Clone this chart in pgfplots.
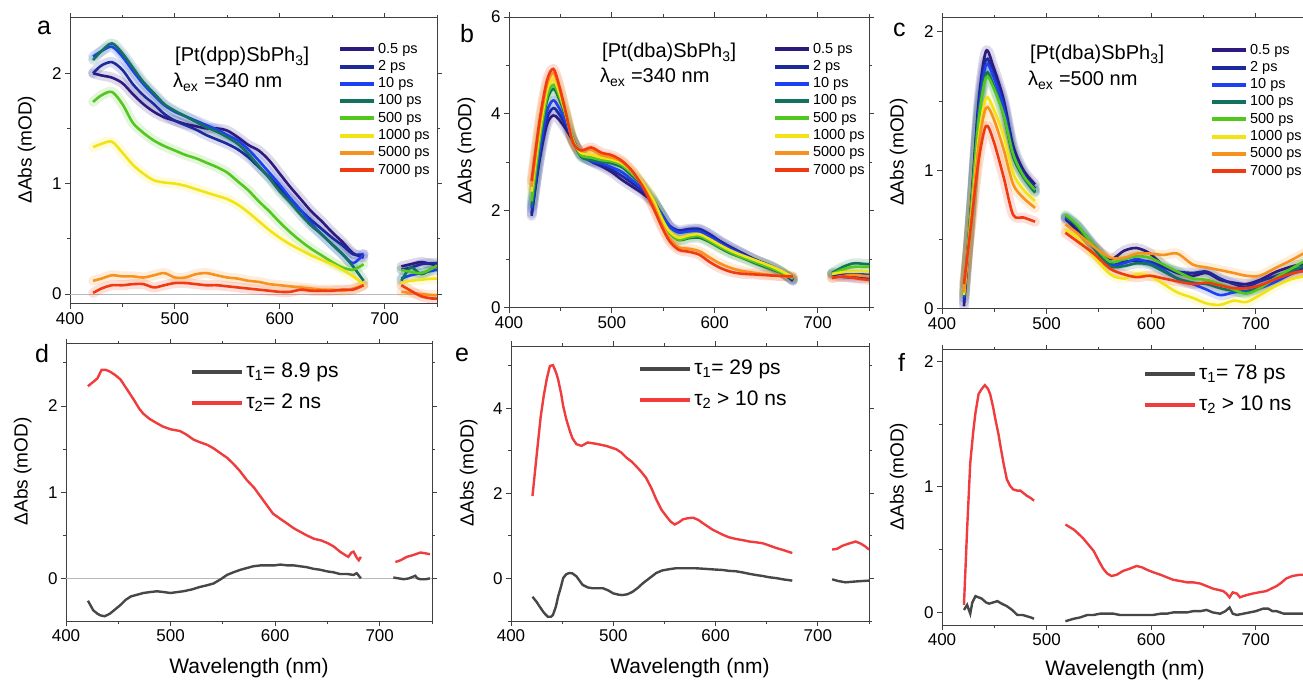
\documentclass[border=0pt]{standalone}
\usepackage{fontspec}
\setmainfont{Liberation Sans}
\usepackage{pgfplots}
\pgfplotsset{compat=1.18}
\usepackage{pgfplotstable}

\newcommand{\fsz}[1]{\fontsize{#1}{#1}\selectfont}

\definecolor{c05}{HTML}{2E1A7E}
\definecolor{c2}{HTML}{1C2A9C}
\definecolor{c10}{HTML}{1E40F0}
\definecolor{c100}{HTML}{12725E}
\definecolor{c500}{HTML}{52C81E}
\definecolor{c1000}{HTML}{F2E414}
\definecolor{c5000}{HTML}{F7921E}
\definecolor{c7000}{HTML}{F23A12}
\definecolor{tgray}{HTML}{474747}
\definecolor{tred}{HTML}{F03C3C}

% panel a: [Pt(dpp)SbPh3], 340 nm
\pgfplotstableread{
x p05 p2 p10 p100 p500 p1000 p5000 p7000
422 2.00 2.00 2.15 2.12 1.74 1.33 0.12 0.01
430 1.98 2.07 2.20 2.20 1.80 1.36 0.14 0.05
440 1.96 2.10 2.24 2.27 1.83 1.38 0.17 0.08
450 1.91 2.03 2.15 2.18 1.72 1.28 0.16 0.08
460 1.81 1.90 2.02 2.05 1.55 1.17 0.16 0.09
470 1.72 1.80 1.90 1.92 1.46 1.09 0.15 0.09
480 1.65 1.72 1.80 1.82 1.39 1.03 0.17 0.06
490 1.60 1.63 1.71 1.72 1.34 1.01 0.19 0.08
500 1.57 1.57 1.65 1.66 1.30 1.00 0.15 0.10
510 1.54 1.53 1.61 1.61 1.26 0.98 0.15 0.10
520 1.52 1.49 1.57 1.56 1.23 0.95 0.18 0.09
530 1.50 1.44 1.53 1.51 1.19 0.92 0.19 0.08
540 1.50 1.40 1.49 1.47 1.15 0.89 0.17 0.08
550 1.48 1.36 1.44 1.42 1.10 0.86 0.15 0.07
560 1.42 1.31 1.39 1.36 1.02 0.81 0.14 0.06
570 1.35 1.24 1.31 1.27 0.94 0.74 0.12 0.05
580 1.30 1.15 1.21 1.16 0.84 0.66 0.11 0.04
590 1.21 1.06 1.10 1.05 0.75 0.58 0.09 0.03
600 1.09 0.96 0.99 0.93 0.65 0.51 0.08 0.02
610 0.97 0.86 0.87 0.83 0.56 0.45 0.07 0.02
620 0.86 0.76 0.76 0.72 0.48 0.40 0.06 0.04
630 0.75 0.67 0.64 0.62 0.41 0.35 0.05 0.03
640 0.66 0.59 0.54 0.54 0.35 0.31 0.04 0.03
650 0.56 0.51 0.45 0.45 0.29 0.27 0.04 0.03
660 0.47 0.44 0.36 0.36 0.24 0.22 0.03 0.04
670 0.37 0.36 0.28 0.25 0.22 0.16 0.05 0.04
680 0.33 0.36 0.36 0.12 0.27 0.09 0.08 0.08
690 nan nan nan nan nan nan nan nan
716 0.25 0.22 0.14 0.12 0.22 0.10 0.02 0.08
725 0.27 0.24 0.17 0.24 0.20 0.12 0.01 0.03
735 0.29 0.27 0.19 0.18 0.19 0.13 0.00 -0.02
745 0.27 0.28 0.21 0.23 0.23 0.14 -0.01 -0.04
750 0.26 0.28 0.22 0.25 0.26 0.14 -0.01 -0.04
}\taba

% panel b: [Pt(dba)SbPh3], 340 nm
\pgfplotstableread{
x p05 p2 p10 p100 p500 p1000 p5000 p7000
422 1.95 1.90 2.05 2.10 2.20 2.40 2.50 2.62
430 3.08 3.15 3.28 3.44 3.52 3.68 3.80 3.90
437 3.79 3.91 4.06 4.28 4.36 4.49 4.61 4.70
443 3.97 4.12 4.28 4.52 4.60 4.72 4.85 4.93
448 3.90 4.02 4.15 4.35 4.42 4.50 4.60 4.65
455 3.70 3.78 3.85 3.95 4.00 4.02 4.05 4.05
462 3.45 3.47 3.48 3.48 3.48 3.46 3.44 3.42
470 3.18 3.17 3.15 3.12 3.15 3.20 3.24 3.25
480 3.02 3.03 3.03 3.05 3.10 3.16 3.26 3.31
490 2.92 2.95 2.98 3.02 3.05 3.10 3.15 3.20
500 2.80 2.85 2.90 2.98 3.02 3.06 3.10 3.15
510 2.64 2.72 2.80 2.90 2.94 2.98 3.01 3.03
520 2.50 2.57 2.63 2.72 2.76 2.80 2.80 2.82
530 2.36 2.42 2.46 2.52 2.54 2.56 2.52 2.50
540 2.18 2.20 2.22 2.24 2.24 2.24 2.14 2.08
548 1.95 1.95 1.95 1.90 1.88 1.86 1.76 1.70
556 1.68 1.70 1.68 1.56 1.55 1.58 1.44 1.38
565 1.56 1.60 1.56 1.40 1.41 1.45 1.25 1.20
575 1.60 1.63 1.58 1.44 1.46 1.50 1.22 1.16
585 1.62 1.63 1.58 1.45 1.48 1.52 1.17 1.10
595 1.52 1.52 1.47 1.36 1.38 1.42 1.04 0.95
605 1.38 1.38 1.34 1.24 1.26 1.30 0.92 0.83
615 1.26 1.26 1.22 1.13 1.15 1.19 0.83 0.75
625 1.15 1.15 1.12 1.05 1.06 1.10 0.77 0.71
640 0.99 0.99 0.98 0.92 0.94 0.98 0.72 0.69
655 0.86 0.86 0.85 0.80 0.82 0.86 0.68 0.67
665 0.74 0.74 0.74 0.72 0.73 0.76 0.66 0.66
676 0.56 0.57 0.59 0.60 0.61 0.63 0.64 0.65
690 nan nan nan nan nan nan nan nan
714 0.68 0.70 0.72 0.72 0.70 0.70 0.62 0.62
725 0.64 0.68 0.73 0.85 0.80 0.74 0.66 0.65
735 0.63 0.67 0.72 0.92 0.85 0.75 0.68 0.62
745 0.62 0.66 0.69 0.91 0.85 0.75 0.66 0.59
750 0.62 0.65 0.68 0.90 0.85 0.75 0.65 0.58
}\tabb

% panel c: [Pt(dba)SbPh3], 500 nm
\pgfplotstableread{
x p05 p2 p10 p100 p500 p1000 p5000 p7000
421 0.02 0.05 0.08 0.10 0.12 0.10 0.12 0.18
428 0.75 0.75 0.74 0.73 0.74 0.66 0.64 0.62
435 1.50 1.45 1.42 1.38 1.36 1.23 1.18 1.07
442 1.86 1.80 1.76 1.70 1.67 1.52 1.45 1.32
449 1.75 1.70 1.68 1.62 1.60 1.45 1.38 1.22
459 1.51 1.48 1.45 1.40 1.40 1.25 1.15 0.95
468 1.18 1.15 1.12 1.10 1.12 0.98 0.90 0.68
478 1.00 0.98 0.96 0.95 0.96 0.86 0.80 0.66
489 0.90 0.87 0.85 0.84 0.86 0.78 0.73 0.63
500 nan nan nan nan nan nan nan nan
518 0.65 0.66 0.66 0.67 0.68 0.57 0.61 0.55
529 0.57 0.60 0.60 0.60 0.61 0.52 0.55 0.49
545 0.45 0.46 0.45 0.44 0.46 0.38 0.45 0.40
561 0.36 0.33 0.32 0.31 0.34 0.25 0.37 0.29
574 0.42 0.34 0.33 0.31 0.36 0.22 0.37 0.25
586 0.44 0.35 0.36 0.33 0.38 0.25 0.40 0.23
599 0.40 0.34 0.33 0.32 0.37 0.24 0.40 0.24
612 0.31 0.30 0.28 0.27 0.32 0.18 0.39 0.22
625 0.26 0.27 0.22 0.22 0.27 0.12 0.40 0.20
640 0.24 0.26 0.18 0.19 0.22 0.08 0.32 0.18
653 0.26 0.27 0.14 0.18 0.21 0.04 0.30 0.19
666 0.21 0.22 0.10 0.15 0.18 0.03 0.28 0.17
679 0.19 0.18 0.12 0.13 0.14 0.06 0.26 0.15
691 0.18 0.16 0.13 0.12 0.11 0.05 0.24 0.15
704 0.21 0.20 0.15 0.16 0.15 0.10 0.24 0.17
720 0.27 0.24 0.20 0.22 0.23 0.17 0.30 0.22
736 0.31 0.28 0.26 0.28 0.30 0.22 0.36 0.26
750 0.33 0.30 0.28 0.32 0.36 0.24 0.42 0.28
}\tabc

% panel d: decay-associated spectra
\pgfplotstableread{
x y
421 2.23
426 2.28
430 2.32
434 2.42
438 2.42
442 2.40
447 2.36
452 2.31
458 2.20
465 2.07
470 1.97
474 1.91
480 1.85
487 1.80
493 1.76
500 1.73
509 1.71
515 1.67
522 1.61
528 1.58
535 1.55
541 1.51
548 1.45
554 1.40
560 1.33
566 1.25
573 1.14
580 1.05
586 0.95
592 0.85
598 0.75
605 0.69
611 0.64
618 0.58
624 0.54
630 0.50
637 0.46
644 0.44
650 0.41
656 0.37
662 0.31
667 0.27
670 0.25
673 0.30
675 0.31
678 0.24
680 0.21
682 0.25
690 nan
715 0.19
720 0.21
726 0.25
732 0.27
739 0.30
744 0.29
748 0.28
}\tabdr

\pgfplotstableread{
x y
421 -0.26
426 -0.37
430 -0.41
433 -0.43
437 -0.44
442 -0.41
447 -0.36
452 -0.31
457 -0.25
462 -0.21
468 -0.19
474 -0.17
480 -0.16
487 -0.15
494 -0.16
500 -0.17
506 -0.16
512 -0.15
520 -0.13
528 -0.10
535 -0.08
541 -0.06
548 -0.01
554 0.04
560 0.07
567 0.10
573 0.12
579 0.14
586 0.15
592 0.15
599 0.15
605 0.16
612 0.15
618 0.15
624 0.14
630 0.13
637 0.11
643 0.10
650 0.08
656 0.07
662 0.05
669 0.05
675 0.04
678 0.06
680 0.03
682 0.00
690 nan
713 0.01
718 0.00
723 -0.01
728 0.00
734 0.03
736 0.00
739 -0.01
744 -0.01
748 0.00
}\tabdg

% panel e
\pgfplotstableread{
x y
421 1.94
425 2.88
429 3.80
432 4.30
435 4.70
438 5.00
441 5.02
444 4.85
446 4.69
449 4.35
451 4.06
454 3.75
457 3.51
460 3.30
464 3.16
469 3.12
475 3.20
483 3.17
493 3.12
503 3.04
508 2.96
513 2.84
518 2.75
522 2.65
527 2.52
532 2.37
537 2.14
542 1.86
547 1.62
552 1.46
556 1.34
560 1.27
564 1.32
568 1.39
573 1.42
578 1.43
583 1.38
587 1.31
592 1.23
597 1.15
602 1.09
607 1.03
613 0.97
620 0.93
627 0.90
633 0.87
640 0.85
646 0.83
652 0.78
659 0.72
666 0.67
675 0.60
690 nan
714 0.68
719 0.70
724 0.77
730 0.82
737 0.87
742 0.82
746 0.76
750 0.68
}\taber

\pgfplotstableread{
x y
421 -0.43
425 -0.55
428 -0.66
432 -0.80
436 -0.90
439 -0.90
441 -0.86
444 -0.65
446 -0.43
449 -0.18
451 0.01
454 0.10
457 0.13
460 0.12
464 0.05
467 -0.05
470 -0.15
475 -0.21
480 -0.23
485 -0.23
490 -0.23
495 -0.28
500 -0.35
505 -0.38
509 -0.39
514 -0.37
519 -0.31
524 -0.22
529 -0.11
535 0.00
542 0.13
548 0.19
555 0.22
561 0.24
568 0.24
575 0.24
581 0.24
588 0.23
594 0.22
600 0.21
607 0.20
613 0.18
620 0.17
627 0.14
633 0.11
640 0.08
646 0.06
652 0.03
659 0.01
666 -0.02
675 -0.05
690 nan
714 -0.02
720 -0.06
727 -0.09
732 -0.08
737 -0.07
743 -0.06
750 -0.05
}\tabeg

% panel f
\pgfplotstableread{
x y
421 0.06
424 0.66
427 1.19
430 1.45
432 1.59
435 1.74
438 1.78
441 1.81
444 1.78
446 1.74
449 1.63
451 1.54
454 1.42
456 1.32
459 1.18
462 1.06
465 1.01
468 0.98
472 0.97
475 0.97
478 0.95
481 0.93
485 0.91
488 0.89
500 nan
518 0.70
522 0.68
526 0.66
530 0.63
535 0.59
540 0.54
545 0.49
550 0.41
554 0.35
558 0.31
562 0.29
567 0.30
573 0.33
580 0.35
586 0.37
591 0.36
596 0.34
602 0.32
609 0.30
615 0.28
621 0.26
628 0.25
634 0.24
640 0.24
647 0.23
653 0.21
659 0.19
664 0.18
669 0.17
672 0.15
675 0.12
678 0.16
682 0.15
685 0.12
688 0.13
692 0.14
697 0.15
703 0.16
710 0.17
715 0.19
720 0.21
725 0.24
729 0.27
735 0.29
742 0.30
750 0.30
}\tabfr

\pgfplotstableread{
x y
421 0.02
424 0.06
427 -0.01
429 0.08
432 0.13
435 0.12
438 0.11
442 0.08
445 0.07
449 0.08
453 0.09
457 0.07
462 0.05
467 0.02
472 -0.02
477 -0.02
481 -0.03
485 -0.04
488 -0.05
500 nan
518 -0.07
522 -0.06
526 -0.05
532 -0.04
539 -0.02
545 -0.02
551 -0.01
558 -0.01
564 -0.01
570 -0.02
577 -0.02
583 -0.02
589 -0.02
596 -0.02
602 -0.02
609 -0.01
615 -0.01
621 0.00
628 0.00
634 0.00
640 0.01
647 0.01
653 0.02
659 0.00
666 -0.01
671 0.01
675 0.04
678 -0.01
682 -0.02
688 -0.01
694 0.00
700 0.01
707 0.03
712 0.03
716 0.01
720 0.01
727 -0.01
733 -0.01
738 -0.01
742 -0.01
750 -0.01
}\tabfg

% faded band + solid line for one delay
\newcommand{\band}[3]{\addplot[color=#3, line width=10pt, opacity=0.16, smooth, line cap=round, line join=round, forget plot] table[x=x,y=#2]{#1};}
\newcommand{\trace}[3]{\addplot[color=#3, line width=2.6pt, smooth] table[x=x,y=#2]{#1};}
\newcommand{\allseries}[1]{%
  \band{#1}{p05}{c05}\band{#1}{p2}{c2}\band{#1}{p10}{c10}\band{#1}{p100}{c100}%
  \band{#1}{p500}{c500}\band{#1}{p1000}{c1000}\band{#1}{p5000}{c5000}\band{#1}{p7000}{c7000}%
  \trace{#1}{p05}{c05}\trace{#1}{p2}{c2}\trace{#1}{p10}{c10}\trace{#1}{p100}{c100}%
  \trace{#1}{p500}{c500}\trace{#1}{p1000}{c1000}\trace{#1}{p5000}{c5000}\trace{#1}{p7000}{c7000}}

\pgfplotsset{
  panel/.style={
    scale only axis, anchor=south west,
    xmin=400, xmax=750, xtick={400,500,600,700}, minor xtick={450,550,650,750},
    tick align=outside, major tick length=5pt, minor tick length=3pt,
    axis line style={black!75, line width=1pt},
    every tick/.style={black!75, line width=1pt},
    tick label style={font=\fsz{17}},
    /pgf/number format/assume math mode=true,
    ylabel={ΔAbs (mOD)},
    every axis y label/.style={at={(axis description cs:-0.118,0.54)}, rotate=90, anchor=center, font=\fsz{19}},
    every axis x label/.style={at={(axis description cs:0.5,-0.17)}, anchor=center, font=\fsz{21}},
    unbounded coords=jump,
  },
  tslegend/.style={
    legend cell align=left,
    legend style={anchor=north west, draw=none, fill=none, font=\fsz{14.5},
      inner sep=0pt, row sep=3.8pt, column sep=2pt,
      nodes={inner sep=0pt, text height=10.5pt, text depth=3pt}},
    legend image code/.code={\draw[##1, line width=4pt] (0pt,0pt) -- (34pt,0pt);},
    legend entries={0.5 ps,2 ps,10 ps,100 ps,500 ps,1000 ps,5000 ps,7000 ps},
  },
  dalegend/.style={
    legend cell align=left,
    legend style={anchor=north west, draw=none, fill=none, font=\fsz{21},
      inner sep=0pt, row sep=11pt, column sep=2pt,
      nodes={inner sep=0pt, text height=15pt, text depth=5pt}},
    legend image code/.code={\draw[##1, line width=4pt] (0pt,0pt) -- (50pt,0pt);},
  },
}

\begin{document}
\begin{tikzpicture}[x=1pt,y=1pt]
\useasboundingbox (0,0) rectangle (1303,680);

% a
\begin{axis}[panel, tslegend, at={(70pt,376pt)}, width=367pt, height=286pt,
  ymin=-0.09, ymax=2.5, ytick={0,1,2}, minor ytick={0.5,1.5},
  legend style={at={(axis description cs:0.730,0.915)}}]
\addplot[gray!55, line width=0.6pt, forget plot] coordinates {(400,0) (750,0)};
\allseries{\taba}
\end{axis}

% b
\begin{axis}[panel, tslegend, at={(509pt,372pt)}, width=360pt, height=291pt,
  ymin=0, ymax=6, ytick={0,2,4,6}, minor ytick={1,3,5},
  legend style={at={(axis description cs:0.733,0.913)}}]
\allseries{\tabb}
\end{axis}

% c
\begin{axis}[panel, tslegend, at={(942pt,371pt)}, width=366pt, height=291pt,
  ymin=0, ymax=2.1, ytick={0,1,2}, minor ytick={0.5,1.5},
  legend style={at={(axis description cs:0.732,0.913)}}]
\allseries{\tabc}
\end{axis}

% d
\begin{axis}[panel, dalegend, at={(66pt,59pt)}, width=366pt, height=277pt,
  ymin=-0.495, ymax=2.72, ytick={0,1,2}, minor ytick={0.5,1.5,2.5},
  xlabel={Wavelength (nm)},
  legend style={at={(axis description cs:0.339,0.935)}}]
\addplot[gray!55, line width=0.6pt, forget plot] coordinates {(400,0) (750,0)};
\addplot[tgray, line width=2.4pt] table[x=x,y=y]{\tabdg};
\addplot[tred, line width=2.4pt] table[x=x,y=y]{\tabdr};
\legend{τ\textsubscript{1}= 8.9 ps, τ\textsubscript{2}= 2 ns}
\end{axis}

% e
\begin{axis}[panel, dalegend, at={(511pt,59pt)}, width=358pt, height=275pt,
  ymin=-1.0, ymax=5.47, ytick={0,2,4}, minor ytick={-1,1,3,5},
  xlabel={Wavelength (nm)},
  legend style={at={(axis description cs:0.355,0.953)}}]
\addplot[tgray, line width=2.4pt] table[x=x,y=y]{\tabeg};
\addplot[tred, line width=2.4pt] table[x=x,y=y]{\taber};
\legend{τ\textsubscript{1}= 29 ps, τ\textsubscript{2} > 10 ns}
\end{axis}

% f
\begin{axis}[panel, dalegend, at={(942pt,55pt)}, width=366pt, height=275pt,
  ymin=-0.1, ymax=2.09, ytick={0,1,2}, minor ytick={0.5,1.5},
  xlabel={Wavelength (nm)},
  every axis x label/.style={at={(axis description cs:0.5,-0.164)}, anchor=center, font=\fsz{21}},
  legend style={at={(axis description cs:0.549,0.949)}}]
\addplot[tgray, line width=2.4pt] table[x=x,y=y]{\tabfg};
\addplot[tred, line width=2.4pt] table[x=x,y=y]{\tabfr};
\legend{τ\textsubscript{1}= 78 ps, τ\textsubscript{2} > 10 ns}
\end{axis}

% panel letters
\node[anchor=base west, inner sep=0pt, font=\fsz{25}] at (37,645) {a};
\node[anchor=base west, inner sep=0pt, font=\fsz{25}] at (460,637) {b};
\node[anchor=base west, inner sep=0pt, font=\fsz{25}] at (893,643) {c};
\node[anchor=base west, inner sep=0pt, font=\fsz{25}] at (35,317) {d};
\node[anchor=base west, inner sep=0pt, font=\fsz{25}] at (455,318) {e};
\node[anchor=base west, inner sep=0pt, font=\fsz{25}] at (898,308) {f};

% sample labels
\node[anchor=base west, inner sep=0pt, font=\fsz{20}] at (175,618) {[Pt(dpp)SbPh\textsubscript{3}]};
\node[anchor=base west, inner sep=0pt, font=\fsz{20}] at (173,592) {λ\textsubscript{ex} =340 nm};
\node[anchor=base west, inner sep=0pt, font=\fsz{20}] at (602,622) {[Pt(dba)SbPh\textsubscript{3}]};
\node[anchor=base west, inner sep=0pt, font=\fsz{20}] at (600,597) {λ\textsubscript{ex} =340 nm};
\node[anchor=base west, inner sep=0pt, font=\fsz{20}] at (1030,620) {[Pt(dba)SbPh\textsubscript{3}]};
\node[anchor=base west, inner sep=0pt, font=\fsz{20}] at (1028,594) {λ\textsubscript{ex} =500 nm};
\end{tikzpicture}
\end{document}
